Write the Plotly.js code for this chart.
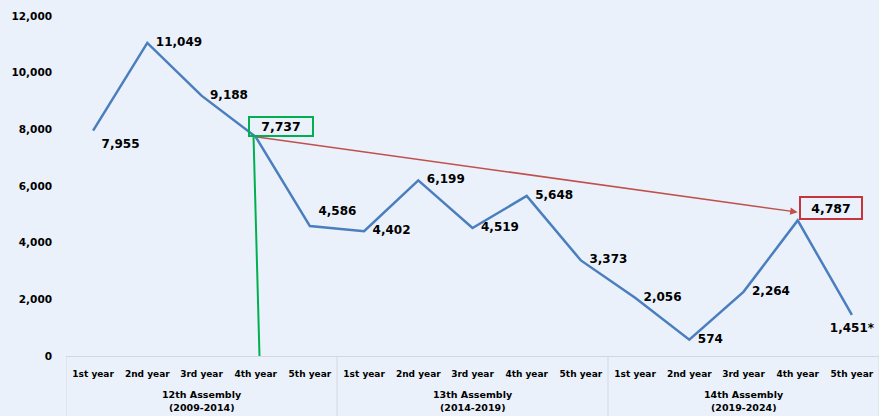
<!DOCTYPE html>
<html>
<head>
<meta charset="utf-8">
<script src="https://cdn.plot.ly/plotly-3.0.1.min.js"></script>
<style>html,body{margin:0;padding:0;background:#EAF1FA;}#chart{width:879px;height:416px;}</style>
</head>
<body>
<div id="chart"></div>
<script>
const assemblies = ["12th Assembly", "13th Assembly", "14th Assembly"];
const assemblyTerms = ["(2009-2014)", "(2014-2019)", "(2019-2024)"];
const years = ["1st year", "2nd year", "3rd year", "4th year", "5th year"];
const values = [7955, 11049, 9188, 7737, 4586, 4402, 6199, 4519, 5648, 3373, 2056, 574, 2264, 4787, 1451];
const labelSuffix = ["", "", "", "", "", "", "", "", "", "", "", "", "", "", "*"];
const yTicks = [0, 2000, 4000, 6000, 8000, 10000, 12000];

const xIdx = values.map((v, i) => i);
const yearLabels = [];
assemblies.forEach(() => years.forEach(y => yearLabels.push(y)));

const fmt = v => v.toLocaleString('en-US');
const boxed = [3, 13];
const texts = values.map((v, i) => boxed.includes(i) ? "" : fmt(v) + labelSuffix[i]);
const positions = values.map((v, i) => i === 0 ? "bottom right" : i === 4 ? "top right" : i === 14 ? "bottom center" : "middle right");

const font = {family: "DejaVu Sans", color: "#000", weight: "bold"};
const gridCol = "#D3D8DF";

const trace = {
  x: xIdx,
  y: values,
  type: "scatter",
  mode: "lines+markers+text",
  line: {color: "#4A7EBE", width: 2.5},
  marker: {size: 12, opacity: 0},
  text: texts,
  textposition: positions,
  textfont: Object.assign({size: 12}, font),
  cliponaxis: false,
  hoverinfo: "skip"
};

const n = years.length;
const bottomPaper = -60 / 340;
const shapes = [{
  type: "line", xref: "x", yref: "y",
  x0: 2.96, y0: values[3], x1: 3.07, y1: 0,
  line: {color: "#00B050", width: 2}
}];
for (let g = 0; g <= assemblies.length; g++) {
  shapes.push({
    type: "line", xref: "x", yref: "paper",
    x0: g * n - 0.5, x1: g * n - 0.5, y0: 0, y1: bottomPaper,
    line: {color: gridCol, width: 1}
  });
}

const annotations = [
  {
    x: 13, y: values[13] + 290, xref: "x", yref: "y",
    ax: 3, ay: values[3], axref: "x", ayref: "y",
    text: "", showarrow: true, arrowhead: 2, arrowsize: 1,
    arrowwidth: 1.5, arrowcolor: "#C0504D", standoff: 0, startstandoff: 0
  },
  {
    x: 3, y: values[3], xref: "x", yref: "y",
    xanchor: "left", yanchor: "bottom", xshift: -8,
    text: fmt(values[3]) + labelSuffix[3], showarrow: false,
    font: Object.assign({size: 12.5}, font),
    bordercolor: "#00B050", borderwidth: 2, borderpad: 0,
    width: 62, height: 17
  },
  {
    x: 13, y: values[13], xref: "x", yref: "y",
    xanchor: "left", yanchor: "bottom", xshift: 1,
    text: fmt(values[13]) + labelSuffix[13], showarrow: false,
    font: Object.assign({size: 12.5}, font),
    bordercolor: "#C7343C", borderwidth: 2, borderpad: 0,
    width: 60, height: 20
  }
];
assemblies.forEach((a, g) => {
  const cx = g * n + (n - 1) / 2;
  annotations.push({
    x: cx, y: -(394 - 356) / 340, xref: "x", yref: "paper",
    yanchor: "middle", text: a, showarrow: false,
    font: Object.assign({size: 9.5}, font)
  });
  annotations.push({
    x: cx, y: -(408 - 356) / 340, xref: "x", yref: "paper",
    yanchor: "middle", text: assemblyTerms[g], showarrow: false,
    font: Object.assign({size: 9.5}, font)
  });
});

const layout = {
  width: 879, height: 416,
  margin: {l: 66, r: 0, t: 16, b: 60},
  paper_bgcolor: "#EAF1FA",
  plot_bgcolor: "#EAF1FA",
  showlegend: false,
  xaxis: {
    range: [-0.5, 14.5],
    tickvals: xIdx,
    ticktext: yearLabels,
    tickangle: 0,
    showgrid: false, zeroline: false,
    showline: true, linecolor: gridCol, linewidth: 1,
    ticks: "",
    ticklabelstandoff: 9,
    tickfont: Object.assign({size: 9}, font)
  },
  yaxis: {
    range: [0, 12000],
    tickvals: yTicks,
    ticktext: yTicks.map(fmt),
    showgrid: false, zeroline: false, showline: false,
    ticklabelstandoff: 13,
    tickfont: Object.assign({size: 10.5}, font)
  },
  shapes: shapes,
  annotations: annotations
};

Plotly.newPlot("chart", [trace], layout, {displayModeBar: false, staticPlot: true});
</script>
</body>
</html>
